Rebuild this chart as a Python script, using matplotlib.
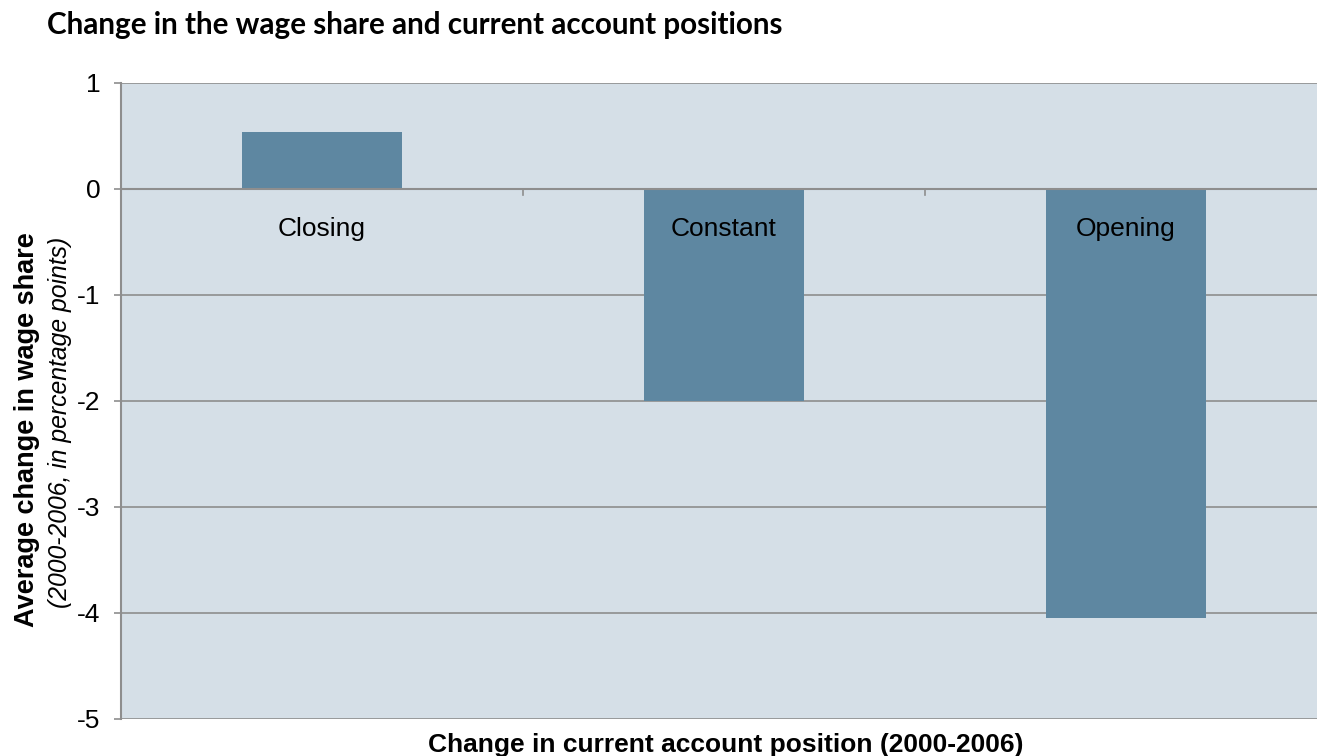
import matplotlib.pyplot as plt

# datos
categorias = ["Closing", "Constant", "Opening"]
valores = [0.54, -2.0, -4.05]
yticks = [1, 0, -1, -2, -3, -4, -5]

fondo = "#D5DFE7"
barra = "#5E87A1"
gris = "#8E8E8E"

fig = plt.figure(figsize=(13.17, 7.56), dpi=100)
ax = fig.add_axes([121 / 1317, 1 - 719 / 756, 1 - 121 / 1317, (719 - 83) / 756])
ax.set_facecolor(fondo)

x = list(range(len(categorias)))
ax.bar(x, valores, width=0.4, color=barra, zorder=3)

ax.set_xlim(-0.5, 2.475)
ax.set_ylim(-5, 1)
ax.set_yticks(yticks)
ax.set_yticklabels([str(v) for v in yticks], fontsize=19, family="Liberation Sans")
ax.tick_params(axis="y", length=5, color=gris, width=1.2, pad=10)
ax.grid(axis="y", color=gris, linewidth=1.2, zorder=1)
ax.set_xticks([])

for s in ["top", "right", "bottom"]:
    ax.spines[s].set_visible(False)
ax.spines["left"].set_color(gris)
ax.spines["left"].set_linewidth(1.5)

# eje x en cero con marcas entre categorias
ax.axhline(0, color=gris, linewidth=1.5, zorder=4)
for xm in [0.5, 1.5]:
    ax.plot([xm, xm], [0, -0.06], color=gris, linewidth=1.2, zorder=4)

for xi, c in zip(x, categorias):
    ax.text(xi, -0.38, c, ha="center", va="center", fontsize=19,
            family="Liberation Sans", zorder=5)

fig.text(47 / 1317, 1 - 25 / 756, "Change in the wage share and current account positions",
         fontsize=21.3, fontweight="bold", family="Lato", va="center", ha="left")
fig.text(726 / 1317, 1 - 745 / 756, "Change in current account position (2000-2006)",
         fontsize=19, fontweight="bold", family="Liberation Sans", va="center", ha="center")
fig.text(27 / 1317, 1 - 430 / 756, "Average change in wage share", rotation=90,
         fontsize=19.5, fontweight="bold", family="Liberation Sans", va="center", ha="center")
fig.text(60 / 1317, 1 - 422 / 756, "(2000-2006, in percentage points)", rotation=90,
         fontsize=17.8, style="italic", family="Liberation Sans", va="center", ha="center")

fig.savefig("out.png", dpi=100)
